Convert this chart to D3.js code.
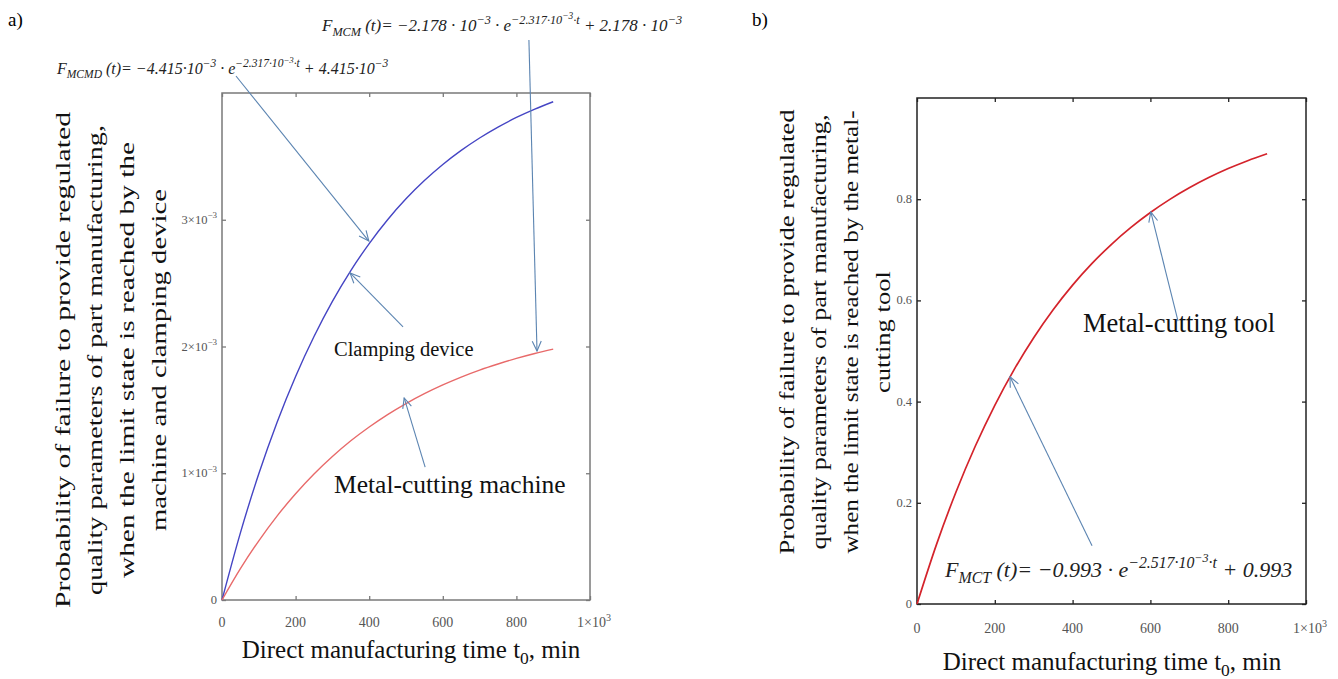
<!DOCTYPE html>
<html>
<head>
<meta charset="utf-8">
<script src="https://cdn.jsdelivr.net/npm/d3@7"></script>
<style>
body{margin:0;background:#fff;}
text{font-family:"Liberation Serif","Times New Roman",serif;}
</style>
</head>
<body>
<svg id="svg1" width="1338" height="679"></svg>
<script>
// direct manufacturing time, min
var timeMin = [0,50,100,150,200,250,300,350,400,450,500,550,600,650,700,750,800,850,900];
// a) probabilities
var clampingDevice = [0,0.530e-3,0.996e-3,1.405e-3,1.764e-3,2.079e-3,2.356e-3,2.599e-3,2.812e-3,3.000e-3,
  3.165e-3,3.309e-3,3.436e-3,3.547e-3,3.645e-3,3.731e-3,3.807e-3,3.873e-3,3.931e-3];
var metalCuttingMachine = [0,0.247e-3,0.467e-3,0.664e-3,0.838e-3,0.994e-3,1.132e-3,1.256e-3,1.365e-3,1.463e-3,
  1.550e-3,1.628e-3,1.697e-3,1.759e-3,1.814e-3,1.862e-3,1.906e-3,1.945e-3,1.979e-3];
// b)
var metalCuttingTool = [0,0.1174,0.2209,0.3122,0.3927,0.4637,0.5263,0.5815,0.6302,0.6731,
  0.7109,0.7442,0.7737,0.7997,0.8225,0.8427,0.8605,0.8761,0.8899];

var xTicks = [0,200,400,600,800,1000];
var xTickLabels = [["0"],["200"],["400"],["600"],["800"],["1×10","3"]];
var yTicksA = [0,1e-3,2e-3,3e-3];
var yTickLabelsA = [["0"],["1×10","−3"],["2×10","−3"],["3×10","−3"]];
var yTicksB = [0,0.2,0.4,0.6,0.8];
var yTickLabelsB = [["0"],["0.2"],["0.4"],["0.6"],["0.8"]];

var yTitleA = ["Probability of failure to provide regulated","quality parameters of part manufacturing,",
  "when the limit state is reached by the","machine and clamping device"];
var yTitleB = ["Probability of failure to provide regulated","quality parameters of part manufacturing,",
  "when the limit state is reached by the metal-","cutting tool"];

// formula pieces: [text, level] level 0 normal, 1 sup, 2 sup of sup, -1 sub
var formulaMCM = [["F",0],["MCM",-1],[" (t)= −2.178 · 10",0],["−3",1],[" · e",0],["−2.317·10",1],["−3",2],["·t",1],[" + 2.178 · 10",0],["−3",1]];
var formulaMCMD = [["F",0],["MCMD",-1],[" (t)= −4.415·10",0],["−3",1],[" · e",0],["−2.317·10",1],["−3",2],["·t",1],[" + 4.415·10",0],["−3",1]];
var formulaMCT = [["F",0],["MCT",-1],[" (t)= −0.993 · e",0],["−2.517·10",1],["−3",2],["·t",1],[" + 0.993",0]];

var serif = '"Liberation Serif","Times New Roman",serif';
var arrowColor = '#5b84b1';
var svg1 = d3.select('#svg1');
var defs = svg1.append('defs');
defs.append('marker').attr('id','arr').attr('viewBox','0 0 12 12')
  .attr('refX',11).attr('refY',6).attr('markerWidth',12).attr('markerHeight',12)
  .attr('markerUnits','userSpaceOnUse').attr('orient','auto')
  .append('path').attr('d','M1,1.5 L11,6 L1,10.5').attr('fill','none')
  .attr('stroke',arrowColor).attr('stroke-width',1.1);

function tickLabel(g, x, y, parts, anchor, size){
  var t = g.append('text').attr('x',x).attr('y',y).attr('text-anchor',anchor)
    .attr('font-size',size).attr('fill','#555');
  t.append('tspan').text(parts[0]);
  if(parts[1]) t.append('tspan').attr('dy',-size*0.45).attr('font-size',size*0.72).text(parts[1]);
}

function formula(g, x, y, parts, size){
  var off = {'-1':-0.28,'0':0,'1':0.42,'2':0.68};
  var fs = {'-1':0.72,'0':1,'1':0.72,'2':0.55};
  var t = g.append('text').attr('x',x).attr('y',y).attr('font-size',size)
    .attr('font-style','italic').attr('fill','#222');
  var prev = 0;
  parts.forEach(function(p){
    t.append('tspan').attr('dy',-(off[p[1]]-off[prev])*size)
      .attr('font-size',size*fs[p[1]]).text(p[0]);
    prev = p[1];
  });
}

function arrow(g, x1, y1, x2, y2){
  g.append('line').attr('x1',x1).attr('y1',y1).attr('x2',x2).attr('y2',y2)
    .attr('stroke',arrowColor).attr('stroke-width',1.1).attr('marker-end','url(#arr)');
}

function frame(g, x, y, xt, yt, xl, yl, col, labY, labX){
  var x0 = x.range()[0], x1 = x.range()[1], y0 = y.range()[0], y1 = y.range()[1];
  g.append('g').attr('transform','translate(0,'+y0+')').call(d3.axisBottom(x).tickValues(xt).tickSize(-4).tickFormat(''));
  g.append('g').attr('transform','translate(0,'+y1+')').call(d3.axisTop(x).tickValues(xt).tickSize(-4).tickFormat(''));
  g.append('g').attr('transform','translate('+x0+',0)').call(d3.axisLeft(y).tickValues(yt).tickSize(-4).tickFormat(''));
  g.append('g').attr('transform','translate('+x1+',0)').call(d3.axisRight(y).tickValues(yt).tickSize(-4).tickFormat(''));
  g.selectAll('.domain').remove();
  g.selectAll('.tick line').attr('stroke',col).attr('stroke-width',1.3);
  g.append('rect').attr('x',x0).attr('y',y1).attr('width',x1-x0).attr('height',y0-y1)
    .attr('fill','none').attr('stroke',col).attr('stroke-width',1.5);
  xt.forEach(function(v,i){ tickLabel(g, x(v)+(i==xt.length-1?4:0), labY, xl[i], 'middle', 14); });
  yt.forEach(function(v,i){ tickLabel(g, labX, y(v)+4, yl[i], 'end', 12.5); });
}

function yTitle(g, cx, cy, lines, lens, size, gap){
  lines.forEach(function(s,i){
    g.append('text').attr('transform','translate('+(cx+i*gap)+','+cy+') rotate(-90)')
      .attr('text-anchor','middle').attr('font-size',size).attr('fill','#111')
      .style('font-family',serif)
      .attr('textLength',lens[i]).attr('lengthAdjust','spacingAndGlyphs').text(s);
  });
}

function xTitle(g, cx, y, size){
  var t = g.append('text').attr('x',cx).attr('y',y).attr('text-anchor','middle')
    .attr('font-size',size).attr('fill','#111');
  t.append('tspan').text('Direct manufacturing  time t');
  t.append('tspan').attr('dy',size*0.25).attr('font-size',size*0.7).text('0');
  t.append('tspan').attr('dy',-size*0.25).text(', min');
}

var line = function(x,y){ return d3.line().x(function(d,i){ return x(timeMin[i]); })
  .y(function(d){ return y(d); }).curve(d3.curveMonotoneX); };

// ---------- a) ----------
var gA = svg1.append('g');
var xA = d3.scaleLinear().domain([0,1000]).range([222,590]);
var yA = d3.scaleLinear().domain([0,4e-3]).range([600,93]);
frame(gA, xA, yA, xTicks, yTicksA, xTickLabels, yTickLabelsA, '#7a7a7a', 627, 217);
gA.append('path').datum(clampingDevice).attr('d',line(xA,yA)).attr('fill','none')
  .attr('stroke','#4545c4').attr('stroke-width',1.4);
gA.append('path').datum(metalCuttingMachine).attr('d',line(xA,yA)).attr('fill','none')
  .attr('stroke','#e86a6a').attr('stroke-width',1.4);

arrow(gA, xA(38), yA(4.134e-3), xA(399), yA(2.832e-3));
arrow(gA, xA(834), yA(4.418e-3), xA(856), yA(1.964e-3));
arrow(gA, xA(492), yA(2.154e-3), xA(348), yA(2.58e-3));
arrow(gA, xA(552), yA(1.049e-3), xA(495), yA(1.594e-3));

gA.append('text').attr('x',334).attr('y',356).attr('font-size',20.5).attr('fill','#111').text('Clamping device');
gA.append('text').attr('x',334).attr('y',493).attr('font-size',25.5).attr('fill','#111').text('Metal-cutting machine');
formula(gA, 322, 31, formulaMCM, 17);
formula(gA, 57, 74, formulaMCMD, 16);
yTitle(gA, 70, 360, yTitleA, [496,470,436,342], 22, 32);
xTitle(gA, 411, 658, 25);
gA.append('text').attr('x',8).attr('y',26).attr('font-size',19).text('a)');

// ---------- b) ----------
var gB = svg1.append('g');
var xB = d3.scaleLinear().domain([0,1000]).range([917,1306]);
var yB = d3.scaleLinear().domain([0,1]).range([604,98]);
frame(gB, xB, yB, xTicks, yTicksB, xTickLabels, yTickLabelsB, '#222', 633, 912);
gB.append('path').datum(metalCuttingTool).attr('d',line(xB,yB)).attr('fill','none')
  .attr('stroke','#d4232b').attr('stroke-width',1.7);

arrow(gB, xB(671), yB(0.559), xB(601), yB(0.775));
arrow(gB, xB(450), yB(0.115), xB(239), yB(0.449));

gB.append('text').attr('x',1083).attr('y',332).attr('font-size',26.5).attr('fill','#111').text('Metal-cutting tool');
formula(gB, 945, 577, formulaMCT, 22);
yTitle(gB, 794, 332, yTitleB, [445,435,443,122], 22, 32);
xTitle(gB, 1112, 670, 25);
gB.append('text').attr('x',752).attr('y',26).attr('font-size',19).text('b)');
</script>
</body>
</html>
